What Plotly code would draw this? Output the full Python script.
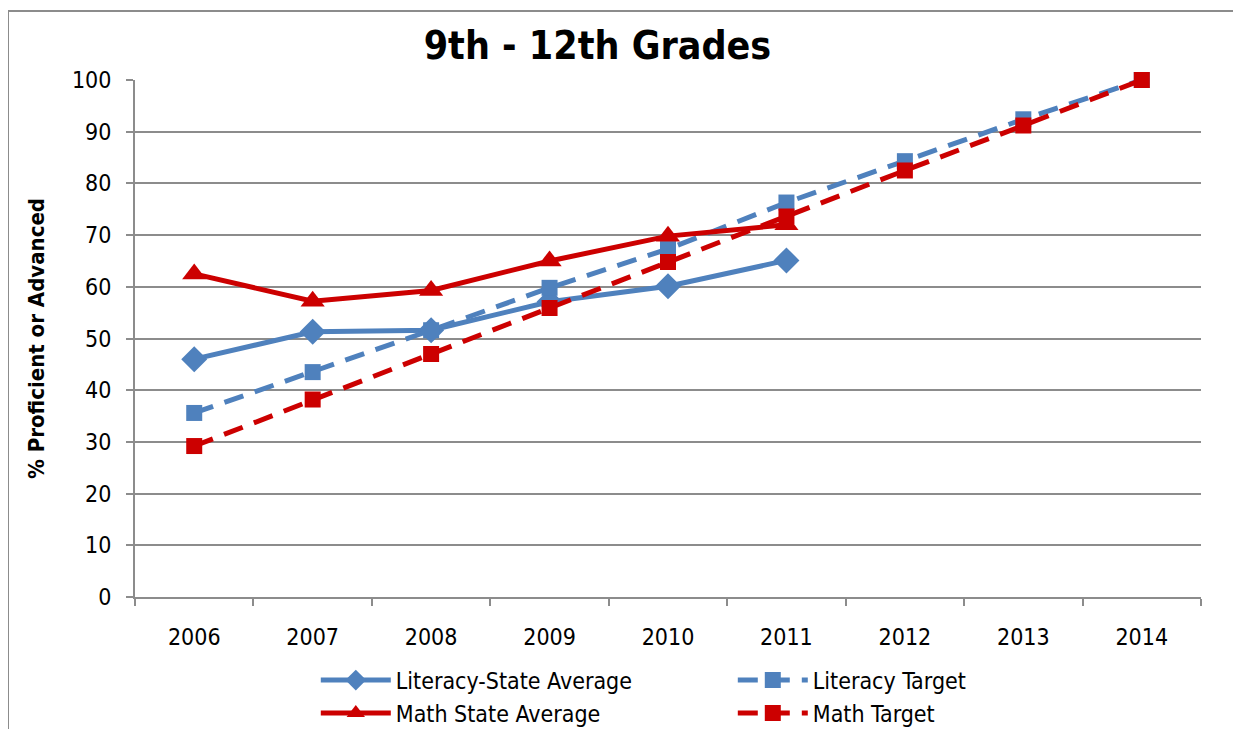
import plotly.graph_objects as go

years = ["2006", "2007", "2008", "2009", "2010", "2011", "2012", "2013", "2014"]
literacy_avg = [46.0, 51.3, 51.6, 57.1, 60.1, 65.1, None, None, None]
literacy_target = [35.6, 43.5, 51.6, 59.8, 67.3, 76.3, 84.3, 92.4, 100.0]
math_avg = [62.5, 57.2, 59.3, 65.0, 69.8, 72.0, None, None, None]
math_target = [29.2, 38.2, 47.0, 55.9, 64.8, 73.6, 82.5, 91.2, 100.0]
y_ticks = list(range(0, 101, 10))

BLUE = "#4F81BD"
RED = "#CC0000"
GRID = "#8C8C8C"
FONT = "DejaVu Sans Condensed, Liberation Sans Narrow, sans-serif"

fig = go.Figure()
fig.add_trace(go.Scatter(
    x=years, y=literacy_avg, name="Literacy-State Average", mode="lines+markers", cliponaxis=False,
    line=dict(color=BLUE, width=5), marker=dict(symbol="diamond", size=20, color=BLUE),
))
fig.add_trace(go.Scatter(
    x=years, y=literacy_target, name="Literacy Target", mode="lines+markers", cliponaxis=False,
    line=dict(color=BLUE, width=5, dash="20px,12px"), marker=dict(symbol="square", size=16, color=BLUE),
))
fig.add_trace(go.Scatter(
    x=years, y=math_avg, name="Math State Average", mode="lines+markers", cliponaxis=False,
    line=dict(color=RED, width=5), marker=dict(symbol="triangle-up", size=21, color=RED),
))
fig.add_trace(go.Scatter(
    x=years, y=math_target, name="Math Target", mode="lines+markers", cliponaxis=False,
    line=dict(color=RED, width=5, dash="20px,12px"), marker=dict(symbol="square", size=16, color=RED),
))

# note: the page body adds an 8px offset, margins compensate for it
fig.update_layout(
    width=1241, height=729,
    margin=dict(l=127, r=48, t=72, b=140, autoexpand=False),
    paper_bgcolor="white", plot_bgcolor="white",
    font=dict(family=FONT, color="black"),
    title=dict(text="<b>9th - 12th Grades</b>", x=0.475, xanchor="center", y=1 - 37 / 729, yanchor="middle",
               font=dict(size=39, family=FONT, color="black")),
    showlegend=True,
    legend=dict(orientation="h", x=0.1696, xanchor="left", y=-0.1192, yanchor="top",
                entrywidth=332, entrywidthmode="pixels", itemwidth=70,
                font=dict(size=23, family=FONT, color="black"), traceorder="normal",
                bgcolor="rgba(0,0,0,0)", itemclick=False),
    shapes=[dict(type="rect", xref="paper", yref="paper",
                 x0=(8 - 135) / 1066, x1=(1237 - 135) / 1066,
                 y0=-0.4, y1=1 + (80 - 11) / 517,
                 line=dict(color=GRID, width=2), fillcolor="rgba(0,0,0,0)", layer="below")],
)

fig.update_xaxes(
    type="category", showgrid=False, showline=True, linecolor=GRID, linewidth=2,
    ticks="outside", tickson="boundaries", ticklen=7, tickcolor=GRID, tickwidth=2,
    ticklabelstandoff=18,
    tickfont=dict(size=23, family=FONT, color="black"), range=[-0.5, 8.5],
)
fig.update_yaxes(
    range=[0, 100], tickvals=y_ticks, showgrid=True, gridcolor=GRID, gridwidth=2,
    showline=True, linecolor=GRID, linewidth=2, ticks="outside", ticklen=7,
    tickcolor=GRID, tickwidth=2, ticklabelstandoff=10,
    tickfont=dict(size=23, family=FONT, color="black"),
    zeroline=False,
    title=dict(text="<b>% Proficient or Advanced</b>", font=dict(size=22, family=FONT, color="black"),
               standoff=21),
)

fig.write_html("out.html")
